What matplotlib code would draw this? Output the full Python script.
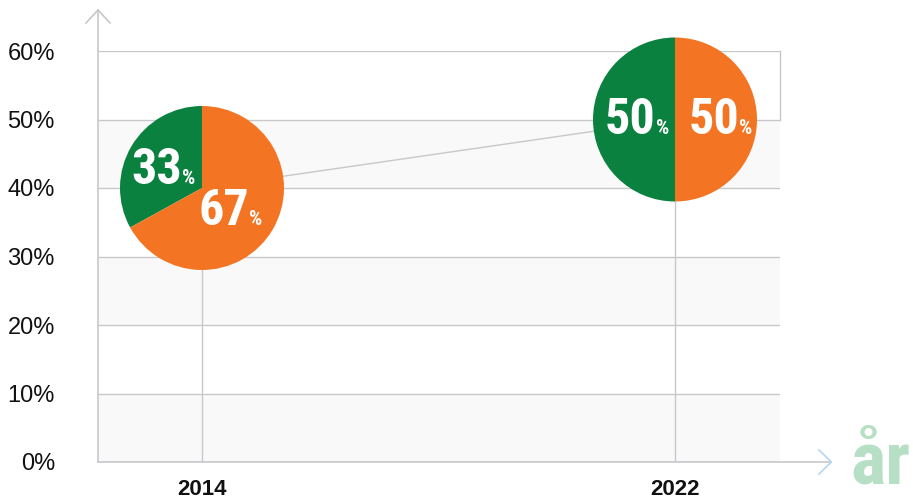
import matplotlib
matplotlib.use("Agg")
import matplotlib.pyplot as plt
from matplotlib import font_manager

years = [2014, 2022]
levels = [40, 50]           # position of pie centre (%)
green_share = [33, 50]
orange_share = [67, 50]
ytick_vals = [0, 10, 20, 30, 40, 50, 60]
ytick_labels = ["0%", "10%", "20%", "30%", "40%", "50%", "60%"]
xtick_labels = ["2014", "2022"]
axis_label = "år"

GREEN = "#0b8140"
ORANGE = "#f37422"
GRID = "#c8c8cc"
BAND = "#f9f9f9"

names = {f.name for f in font_manager.fontManager.ttflist}
NARROW = next((n for n in ["Roboto Condensed", "Archivo Narrow", "Barlow Condensed",
                            "Liberation Sans Narrow", "Roboto"] if n in names), "DejaVu Sans")
REG = "Liberation Sans"

W, H = 913, 499
fig = plt.figure(figsize=(W / 100, H / 100), dpi=100)
ax = fig.add_axes([98 / W, (H - 462) / H, (780 - 98) / W, (462 - 51) / H])
px_per_year = (675 - 202) / 8
x0 = 2014 - (202 - 98) / px_per_year
x1 = 2022 + (780 - 675) / px_per_year
ax.set_xlim(x0, x1)
ax.set_ylim(0, 60)
for s in ax.spines.values():
    s.set_visible(False)

for lo in (0, 20, 40):
    ax.axhspan(lo, lo + 10, color=BAND, lw=0, zorder=0)
for v in ytick_vals:
    ax.axhline(v, color=GRID, lw=1, zorder=1)
ax.plot([x1, x1], [50, 60], color=GRID, lw=1, zorder=1, clip_on=False)

ax.set_yticks(ytick_vals)
ax.set_yticklabels(ytick_labels, fontsize=17, family=REG, color="#111111")
ax.tick_params(axis="y", length=0, pad=31)
ax.set_xticks(years)
ax.set_xticklabels(xtick_labels, fontsize=16, family=REG, fontweight="bold", color="#111111")
ax.tick_params(axis="x", length=0, pad=12)

for yr, lv in zip(years, levels):
    ax.plot([yr, yr], [0, lv], color=GRID, lw=1, zorder=2)
ax.plot(years, levels, color=GRID, lw=1, zorder=2)

# y axis with arrow
yt = 1 + (51 - 10) / (462 - 51)
ya = 1 + (51 - 23) / (462 - 51)
dx = 12 / (780 - 98)
ax.plot([0, 0], [0, yt], transform=ax.transAxes, color=GRID, lw=1.2, clip_on=False, zorder=3)
ax.plot([-dx, 0, dx], [ya, yt, ya], transform=ax.transAxes, color=GRID, lw=1.2, clip_on=False, zorder=3)
# x axis with arrow
xr = (830 - 98) / (780 - 98)
xa = (819 - 98) / (780 - 98)
dy = 12 / (462 - 51)
ax.plot([0, xr], [0, 0], transform=ax.transAxes, color=GRID, lw=1.2, clip_on=False, zorder=3)
ax.plot([xa, xr + 0.002, xa], [dy, 0, -dy], transform=ax.transAxes, color="#b5d6f2", lw=1.2,
        clip_on=False, zorder=3)

fig.text(910 / W, (H - 483) / H, axis_label, fontsize=54, family=NARROW, fontweight="bold",
         color="#b6dfc6", ha="right", va="baseline")

# pies
R = 82
fig.canvas.draw()
# label offsets in pixels from pie centre: (number centre x, baseline y below centre, % left x)
label_pos = [
    [(157 - 202, 184 - 188, 182 - 202), (224 - 202, 225 - 188, 249 - 202)],
    [(630 - 675, 133 - 119, 656 - 675), (714 - 675, 133 - 119, 739 - 675)],
]
for i, (yr, lv, g, o) in enumerate(zip(years, levels, green_share, orange_share)):
    cx, cy = ax.transData.transform((yr, lv))
    pax = fig.add_axes([(cx - R) / W, (cy - R) / H, 2 * R / W, 2 * R / H])
    pax.pie([g, o], colors=[GREEN, ORANGE], startangle=90, counterclock=True,
            wedgeprops=dict(linewidth=0))
    pax.set_xlim(-1, 1)
    pax.set_ylim(-1, 1)
    pax.axis("off")
    for (nx, by, px), v in zip(label_pos[i], [g, o]):
        pax.annotate(f"{v}", xy=(0, 0), xytext=(nx, -by), textcoords="offset pixels",
                     ha="center", va="baseline", fontsize=36, family=NARROW, fontweight="bold",
                     color="white", annotation_clip=False)
        pax.annotate("%", xy=(0, 0), xytext=(px, -by), textcoords="offset pixels",
                     ha="left", va="baseline", fontsize=15, family=NARROW, fontweight="bold",
                     color="white", annotation_clip=False)

fig.savefig("out.png", dpi=100)
